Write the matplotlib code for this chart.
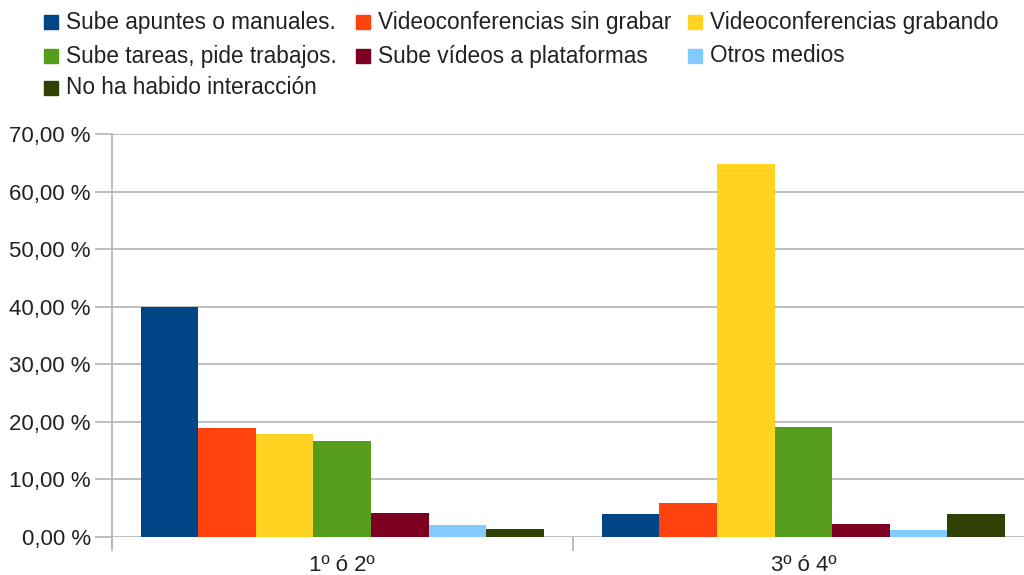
import matplotlib
matplotlib.use("Agg")
import matplotlib.pyplot as plt
import numpy as np
from matplotlib.patches import Rectangle

plt.rcParams['font.family'] = ['Liberation Sans', 'DejaVu Sans']

categories = ["1º ó 2º", "3º ó 4º"]
series = ["Sube apuntes o manuales.", "Videoconferencias sin grabar",
          "Videoconferencias grabando", "Sube tareas, pide trabajos.",
          "Sube vídeos a plataformas", "Otros medios", "No ha habido interacción"]
colors = ["#004586", "#ff420e", "#ffd320", "#579d1c", "#7e0021", "#83caff", "#314004"]
values = {
    "1º ó 2º": [40.0, 18.9, 17.8, 16.6, 4.1, 1.95, 1.3],
    "3º ó 4º": [4.0, 5.9, 64.8, 19.1, 2.1, 1.2, 4.0],
}
yticks = [0, 10, 20, 30, 40, 50, 60, 70]

W, H = 1024, 575
fig = plt.figure(figsize=(W / 100, H / 100), dpi=100)
left_px, right_px, bottom_px, top_px = 111.5, 1034, 536.5, 134.5
ax = fig.add_axes([left_px / W, 1 - bottom_px / H,
                   (right_px - left_px) / W, (bottom_px - top_px) / H])
ax.set_xlim(0, len(categories))
ax.set_ylim(0, 70)

grid_c = "#b3b3b3"
nser = len(series)
bw = 0.874 / nser
for ci, cat in enumerate(categories):
    start = ci + 0.5 - bw * nser / 2
    for si in range(nser):
        ax.bar(start + bw * (si + 0.5), values[cat][si], width=bw,
               color=colors[si], edgecolor='none', zorder=3)

ax.set_yticks(yticks)
ax.set_yticklabels([f"{v:.2f} %".replace('.', ',') for v in yticks])
ax.grid(axis='y', color=grid_c, linewidth=1.2, zorder=0)
ax.tick_params(axis='y', length=12, color=grid_c, width=1.2, pad=3,
               labelsize=16, labelcolor='#222222')
for s in ['top', 'right', 'bottom']:
    ax.spines[s].set_visible(False)
ax.spines['left'].set_color(grid_c)
ax.spines['left'].set_linewidth(1.2)
ax.spines['left'].set_bounds(-1.7, 70)
ax.spines['left'].set_zorder(1)

ax.set_xticks(np.arange(len(categories) + 1))
ax.set_xticklabels([])
ax.set_xticks(np.arange(len(categories)) + 0.5, minor=True)
ax.set_xticklabels(categories, minor=True)
ax.tick_params(axis='x', which='major', length=10, color=grid_c, width=1.2)
ax.tick_params(axis='x', which='minor', length=0, pad=13,
               labelsize=16, labelcolor='#222222')

# legend (row-wise, 3 columns)
col_x = [44, 356, 688]
row_y = [22, 56, 88]
for i, (name, c) in enumerate(zip(series, colors)):
    r, cc = divmod(i, 3)
    x, y = col_x[cc], row_y[r]
    fig.patches.append(Rectangle((x / W, 1 - (y + 7) / H), 14 / W, 14 / H,
                                 transform=fig.transFigure, color=c))
    fig.text((x + 22) / W, 1 - y / H, name, fontsize=16.3, color='#222222',
             va='center', ha='left')

fig.savefig("out.png", dpi=100)
